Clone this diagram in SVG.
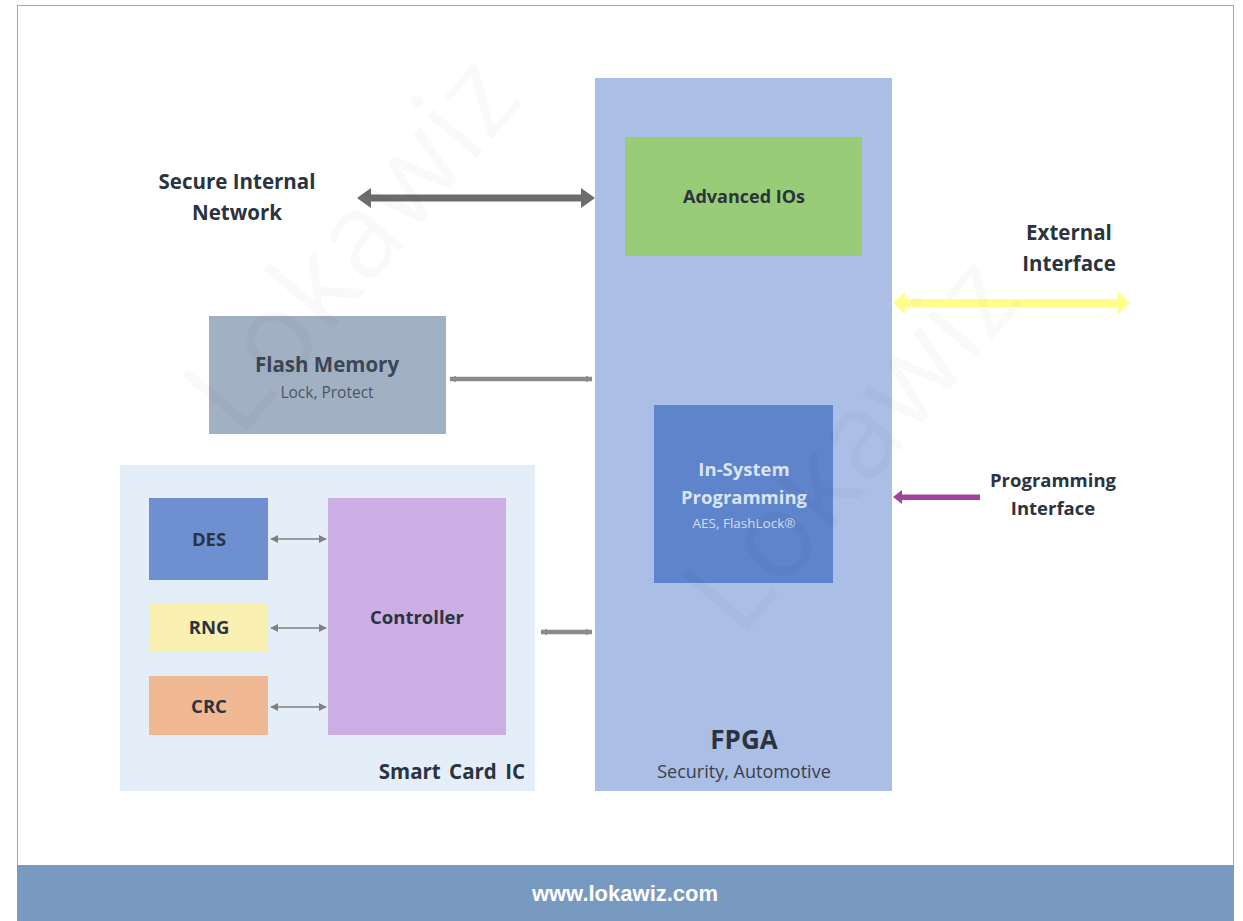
<svg xmlns="http://www.w3.org/2000/svg" width="1243" height="921" viewBox="0 0 1243 921">
<defs>
<style>
.t{font-family:"Open Sans","Liberation Sans",sans-serif;font-weight:bold;fill:#2b3340;text-anchor:middle}
.s{font-family:"Open Sans","Liberation Sans",sans-serif;text-anchor:middle}
.thin{stroke:#808080;stroke-width:1.6;fill:none;marker-start:url(#ah);marker-end:url(#ah)}
.mid{stroke:#8a8a8a;stroke-width:4.5;fill:none;marker-start:url(#ahm);marker-end:url(#ahm)}
.wm{font-family:"Open Sans","Liberation Sans",sans-serif;font-size:120px;fill:#000;fill-opacity:0.022}
</style>
<marker id="ah" viewBox="0 0 10 10" refX="9" refY="5" markerWidth="5" markerHeight="5" orient="auto-start-reverse" markerUnits="strokeWidth"><path d="M0,0 L10,5 L0,10 z" fill="#808080"/></marker>
<marker id="ahm" viewBox="0 0 10 10" refX="9" refY="5" markerWidth="1.6" markerHeight="2" orient="auto-start-reverse" markerUnits="strokeWidth"><path d="M0,0 L10,5 L0,10 z" fill="#8a8a8a"/></marker>
</defs>
<rect x="0" y="0" width="1243" height="921" fill="#ffffff"/>
<rect x="17.5" y="5.5" width="1216" height="860" fill="#ffffff" stroke="#a6a6a6" stroke-width="1"/>
<g id="footer">
<rect x="17" y="865" width="1217" height="56" fill="#7899c0"/>
<text x="625" y="901" font-family="'Liberation Sans',Arial,sans-serif" font-size="22" font-weight="bold" fill="#ffffff" text-anchor="middle">www.lokawiz.com</text>
</g>
<g id="fpga">
<rect x="595" y="78" width="297" height="713" fill="#abbee5"/>
<text class="t" x="744" y="749" font-size="26">FPGA</text>
<text class="s" x="744" y="778" font-size="18" fill="#3a3f4a">Security, Automotive</text>
</g>
<g id="advanced-ios">
<rect x="625" y="137" width="237" height="119" fill="#99cc77"/>
<text class="t" x="744" y="203" font-size="18">Advanced IOs</text>
</g>
<g id="isp">
<rect x="654" y="405" width="179" height="178" fill="#5e84cb"/>
<text class="t" x="744" y="476" font-size="18.5" style="fill:#dbe4f5">In-System</text>
<text class="t" x="744" y="504" font-size="18.5" style="fill:#dbe4f5">Programming</text>
<text class="s" x="744" y="528" font-size="13.5" fill="#d2ddf1">AES, FlashLock®</text>
</g>
<g id="secure-internal-network">
<text class="t" x="237" y="189" font-size="20.5">Secure Internal</text>
<text class="t" x="237" y="220" font-size="20.5">Network</text>
</g>
<g id="external-interface">
<text class="t" x="1069" y="240" font-size="20.5">External</text>
<text class="t" x="1069" y="271" font-size="20.5">Interface</text>
</g>
<g id="programming-interface">
<text class="t" x="1053" y="487" font-size="18.5">Programming</text>
<text class="t" x="1053" y="515" font-size="18.5">Interface</text>
</g>
<g id="flash-memory">
<rect x="209" y="316" width="237" height="118" fill="#a2b0c4"/>
<text class="t" x="327" y="372" font-size="20.5" style="fill:#3d4656">Flash Memory</text>
<text class="s" x="327" y="398" font-size="15.5" fill="#4c5564">Lock, Protect</text>
</g>
<g id="smart-card-ic">
<rect x="120" y="465" width="415" height="326" fill="#e4eef8"/>
<text class="t" x="525" y="779" font-size="20.5" style="text-anchor:end;word-spacing:3px">Smart Card IC</text>
</g>
<g id="des">
<rect x="149" y="498" width="119" height="82" fill="#6e90d0"/>
<text class="t" x="209" y="546" font-size="18.5">DES</text>
</g>
<g id="rng">
<rect x="149" y="604" width="119" height="47" fill="#faf0b2"/>
<text class="t" x="209" y="634" font-size="18.5">RNG</text>
</g>
<g id="crc">
<rect x="149" y="676" width="119" height="59" fill="#f0b994"/>
<text class="t" x="209" y="713" font-size="18.5">CRC</text>
</g>
<g id="controller">
<rect x="328" y="498" width="178" height="237" fill="#cbaee4"/>
<text class="t" x="417" y="624" font-size="18.5">Controller</text>
</g>
<g id="connectors">
<polygon points="357,198 371,188 371,194.5 581,194.5 581,188 595,198 581,208 581,201.5 371,201.5 371,208" fill="#6d6d6d"/>
<polygon points="893,303 905,292 905,299 1118,299 1118,292 1130,303 1118,314 1118,307 905,307 905,314" fill="#ffff88"/>
<polygon points="893,497 902,490 902,494.5 980,494.5 980,500 902,500 902,504" fill="#a0449e"/>
<line class="mid" x1="450" y1="379" x2="592" y2="379"/>
<line class="mid" x1="541" y1="632" x2="592" y2="632"/>
<line class="thin" x1="271" y1="539" x2="326" y2="539"/>
<line class="thin" x1="271" y1="628" x2="326" y2="628"/>
<line class="thin" x1="271" y1="707" x2="326" y2="707"/>
</g>
<g id="watermark">
<text class="wm" x="0" y="0" transform="translate(240,440) rotate(-50)">Lokawiz</text>
<text class="wm" x="0" y="0" transform="translate(740,640) rotate(-50)">Lokawiz</text>
</g>
</svg>
